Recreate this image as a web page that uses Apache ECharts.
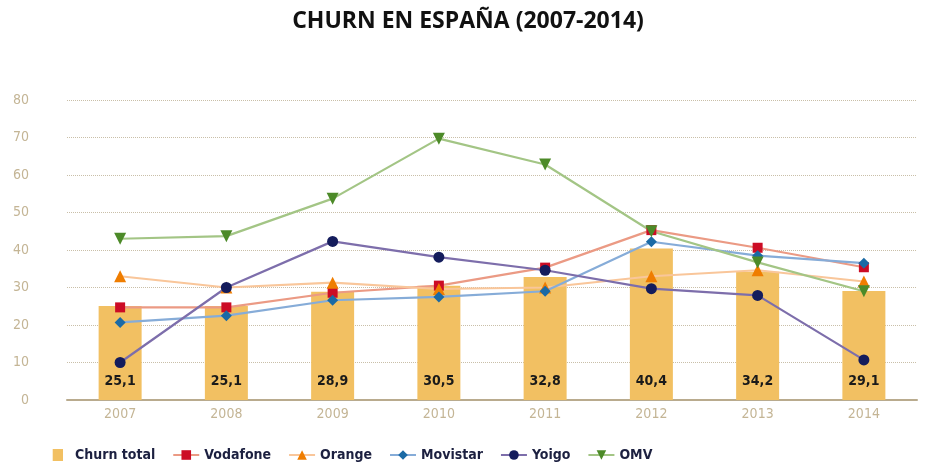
<!DOCTYPE html>
<html>
<head>
<meta charset="utf-8">
<script src="https://cdn.jsdelivr.net/npm/echarts@6/dist/echarts.min.js"></script>
<style>
  html, body { margin: 0; padding: 0; background: #fff; }
  #chart { width: 936px; height: 472px; }
</style>
</head>
<body>
<div id="chart"></div>
<script>
var years = ['2007', '2008', '2009', '2010', '2011', '2012', '2013', '2014'];
var churnTotal = [25.1, 25.1, 28.9, 30.5, 32.8, 40.4, 34.2, 29.1];
var vodafone = [24.7, 24.7, 28.6, 30.5, 35.3, 45.3, 40.6, 35.4];
var orange = [33.0, 30.0, 31.3, 29.6, 30.0, 33.0, 34.6, 31.6];
var movistar = [20.7, 22.5, 26.6, 27.5, 29.0, 42.2, 38.5, 36.5];
var yoigo = [10.0, 30.0, 42.3, 38.1, 34.6, 29.7, 27.9, 10.7];
var omv = [43.0, 43.7, 53.7, 69.7, 62.8, 45.0, 36.7, 29.0];
var yTicks = [0, 10, 20, 30, 40, 50, 60, 70, 80];

var narrow = '"Liberation Sans Narrow", "DejaVu Sans Condensed", sans-serif';

var chart = echarts.init(document.getElementById('chart'));

//linea con marcador de otro color
function lineSerie(name, data, lineColor, markColor, symbol, size) {
  return {
    name: name,
    type: 'line',
    data: data,
    symbol: symbol,
    symbolSize: size,
    z: 3,
    lineStyle: { color: lineColor, width: 2.2 },
    itemStyle: { color: markColor },
    emphasis: { disabled: true }
  };
}

var option = {
  animation: false,
  title: {
    text: 'CHURN EN ESPAÑA (2007-2014)',
    left: 'center',
    top: 5,
    textStyle: {
      fontFamily: '"Open Sans", sans-serif',
      fontSize: 23,
      fontWeight: 'bold',
      color: '#111'
    }
  },
  legend: {
    bottom: 5,
    left: 40,
    itemGap: 17,
    itemWidth: 26,
    itemHeight: 12,
    textStyle: { fontFamily: narrow, fontSize: 14, fontWeight: 'bold', color: '#1c2040' },
    data: [
      { name: 'Churn total', icon: 'path://M9,0 L21,0 L21,14 L9,14 Z M0,7 L0.01,7 M28,7 L28.01,7', itemStyle: { color: '#f2c062' } },
      'Vodafone', 'Orange', 'Movistar', 'Yoigo', 'OMV'
    ]
  },
  grid: {
    left: 67,
    right: 19,
    top: 100,
    bottom: 72
  },
  xAxis: {
    type: 'category',
    data: years,
    boundaryGap: true,
    axisLine: { lineStyle: { color: '#b9ab8e', width: 2 } },
    axisTick: { show: false },
    axisLabel: { color: '#c4b595', fontFamily: narrow, fontSize: 14, margin: 7 }
  },
  yAxis: {
    type: 'value',
    min: yTicks[0],
    max: yTicks[yTicks.length - 1],
    interval: 10,
    axisLine: { show: false },
    axisTick: { show: false },
    axisLabel: { color: '#c4b595', fontFamily: narrow, fontSize: 14, margin: 38 },
    splitLine: { lineStyle: { color: '#c9bfa8', type: 'dotted', width: 1 } }
  },
  series: [
    {
      name: 'Churn total',
      type: 'bar',
      data: churnTotal,
      barWidth: 43,
      z: 1,
      itemStyle: { color: '#f2c062' },
      emphasis: { disabled: true },
      label: {
        show: true,
        position: 'insideBottom',
        distance: 12,
        fontFamily: narrow,
        fontSize: 14,
        fontWeight: 'bold',
        color: '#1a1a1a',
        formatter: function(p) {
          return p.value.toFixed(1).replace('.', ',');
        }
      }
    },
    lineSerie('Vodafone', vodafone, '#eb9a84', '#cc0c25', 'rect', 10),
    lineSerie('Orange', orange, '#f9c69a', '#ef7d00', 'triangle', 12),
    lineSerie('Movistar', movistar, '#86acd8', '#1b6aa5', 'diamond', 11),
    lineSerie('Yoigo', yoigo, '#7d6eab', '#141c5c', 'circle', 11),
    lineSerie('OMV', omv, '#a3c585', '#4c8a28', 'path://M0,0 L10,0 L5,10 Z', 12)
  ]
};

chart.setOption(option);
</script>
</body>
</html>
